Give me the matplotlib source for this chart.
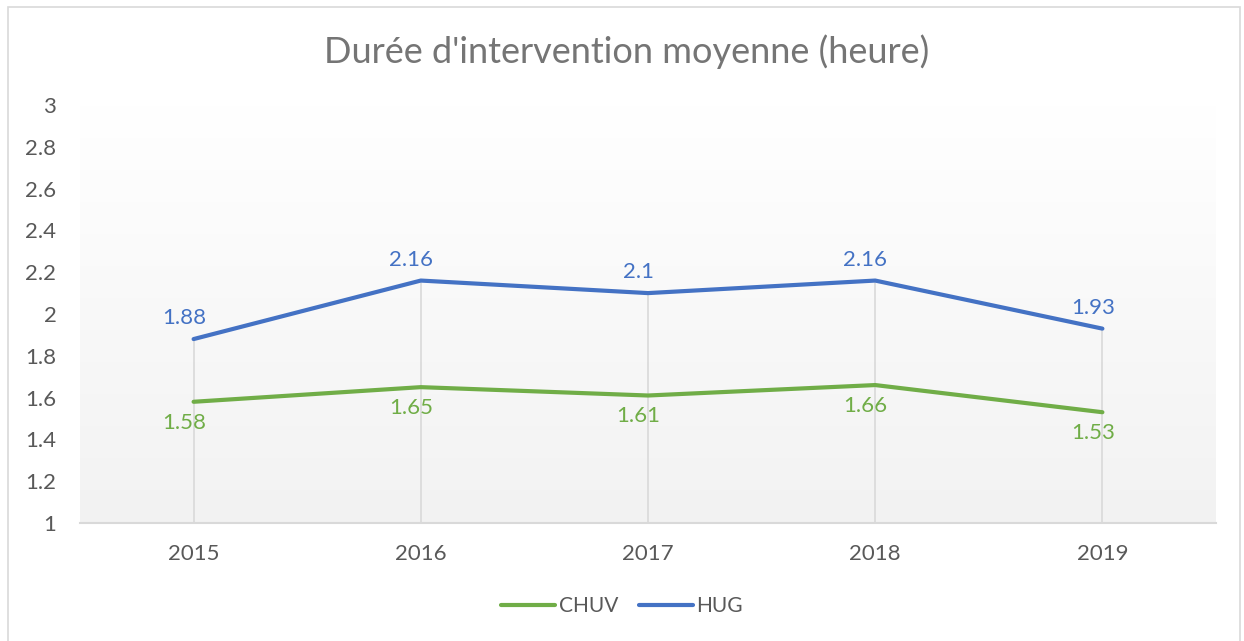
import numpy as np
import matplotlib.pyplot as plt
from matplotlib.patches import Rectangle

# Data
years = ['2015', '2016', '2017', '2018', '2019']
chuv = [1.58, 1.65, 1.61, 1.66, 1.53]
hug = [1.88, 2.16, 2.1, 2.16, 1.93]

GREEN = '#70AD47'
BLUE = '#4472C4'
TEXT = '#595959'

plt.rcParams['font.family'] = ['Lato', 'DejaVu Sans']

fig = plt.figure(figsize=(12.44, 6.41), dpi=100)
W, H = 1244, 641

# outer chart border
fig.patches.append(Rectangle((8 / W, -0.01), (1240 - 8) / W, (641 - 7) / H + 0.01,
                             transform=fig.transFigure, fill=False,
                             edgecolor='#d9d9d9', linewidth=1.2))

ax = fig.add_axes([80 / W, 1 - 523 / H, (1216 - 80) / W, (523 - 105) / H])
x = np.arange(len(years))

# gradient background of the plot area (white on top, light grey at the bottom)
grad = np.linspace(0, 1, 256).reshape(-1, 1)
cmap = plt.matplotlib.colors.LinearSegmentedColormap.from_list('g', ['#ffffff', '#f2f2f2'])
ax.imshow(grad, extent=[-0.5, 4.5, 1, 3], aspect='auto', origin='upper', cmap=cmap, zorder=0)

# drop lines
tops = np.maximum(chuv, hug)
ax.vlines(x, 1, tops, color='#d9d9d9', linewidth=1.2, zorder=1)

ax.plot(x, chuv, color=GREEN, linewidth=3, solid_capstyle='round', label='CHUV', zorder=3)
ax.plot(x, hug, color=BLUE, linewidth=3, solid_capstyle='round', label='HUG', zorder=3)

# data labels (excel puts them a little left of the point)
for xi, v in zip(x, hug):
    ax.annotate(f'{v:g}', (xi, v), xytext=(-7, 15), textcoords='offset points',
                ha='center', va='center', color=BLUE, fontsize=16)
for xi, v in zip(x, chuv):
    ax.annotate(f'{v:g}', (xi, v), xytext=(-7, -15), textcoords='offset points',
                ha='center', va='center', color=GREEN, fontsize=16)

ax.set_xlim(-0.5, 4.5)
ax.set_ylim(1, 3)
yt = np.arange(1, 3.01, 0.2).round(1)
ax.set_yticks(yt)
ax.set_yticklabels([f'{t:g}' for t in yt])
ax.set_xticks(x)
ax.set_xticklabels(years)
ax.tick_params(axis='both', length=0, labelsize=16, labelcolor=TEXT)
ax.tick_params(axis='x', pad=15)
ax.tick_params(axis='y', pad=17)
for s in ['top', 'right', 'left']:
    ax.spines[s].set_visible(False)
ax.spines['bottom'].set_color('#d9d9d9')
ax.spines['bottom'].set_linewidth(1.5)

fig.text(627 / W, 1 - 52 / H, "Durée d'intervention moyenne (heure)", ha='center', va='center',
         fontsize=26, color='#757575')

fig.legend(loc='center', bbox_to_anchor=(622 / W, 1 - 606 / H), ncol=2, frameon=False,
           fontsize=15, labelcolor=TEXT, handlelength=2.6, handletextpad=0.15, columnspacing=1.0)

fig.savefig('out.png', dpi=100)
